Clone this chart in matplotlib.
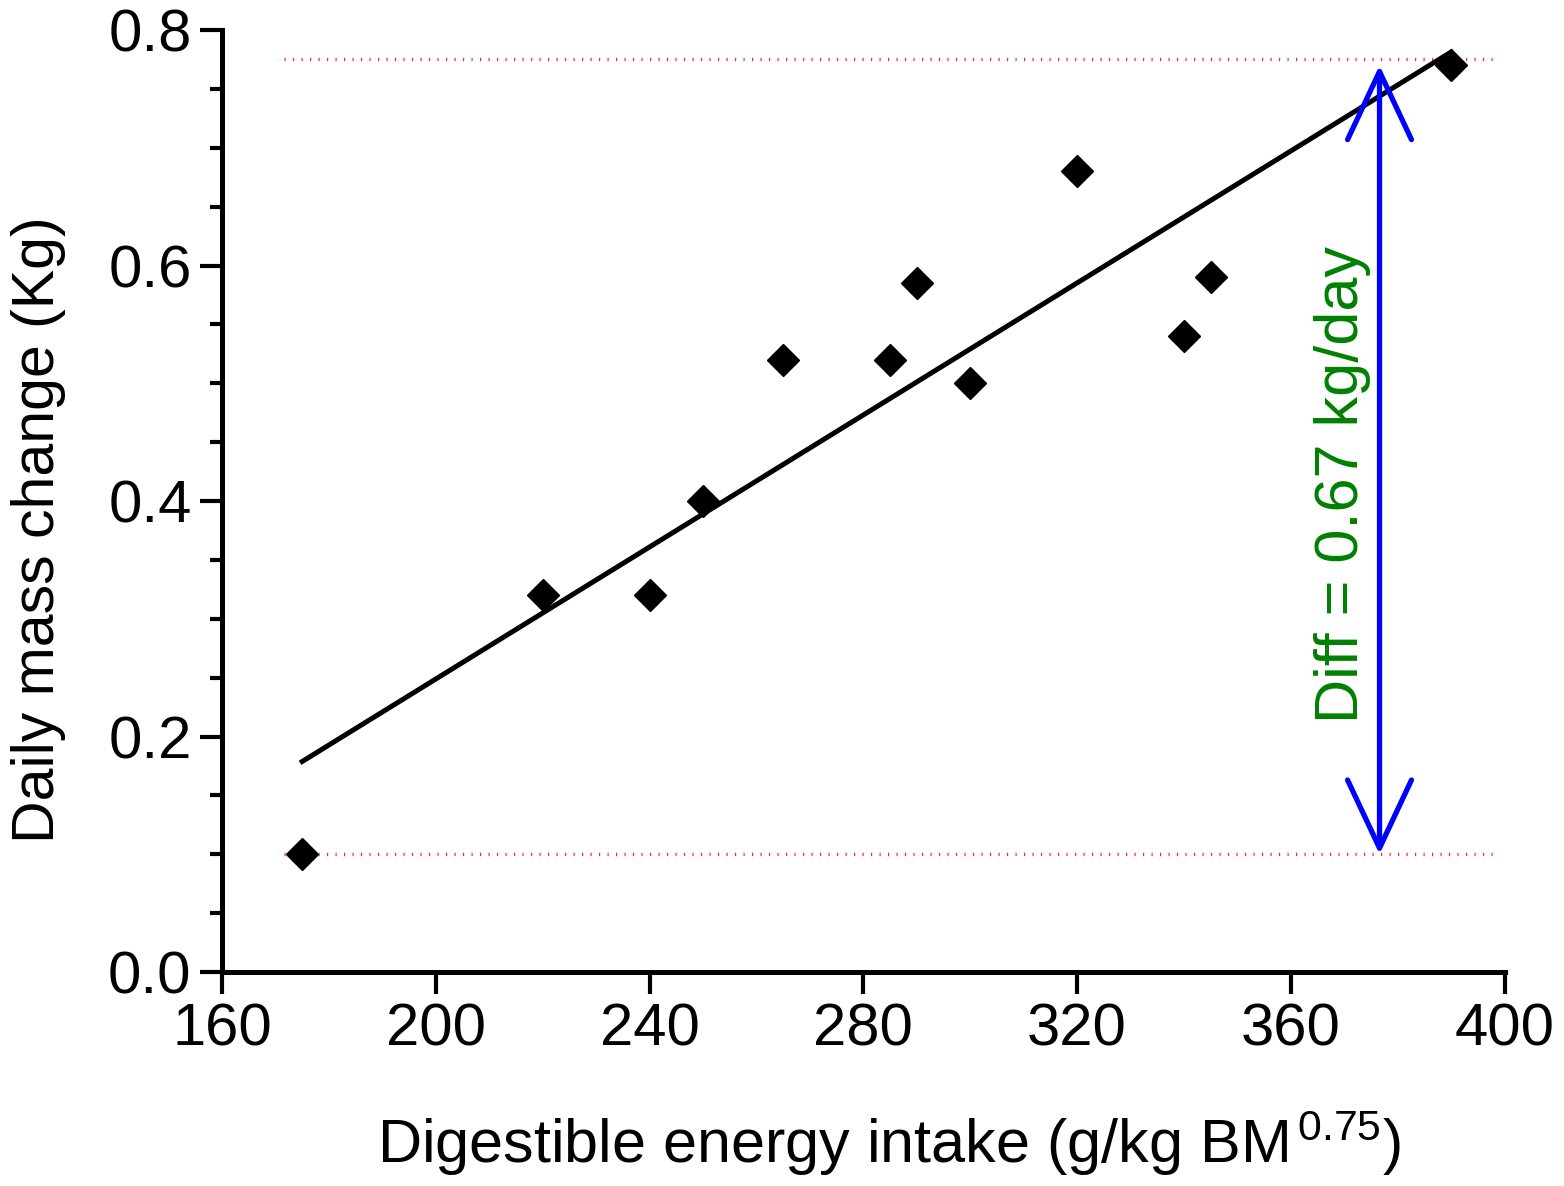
import numpy as np
import matplotlib
matplotlib.use('Agg')
import matplotlib.pyplot as plt
from matplotlib.ticker import MultipleLocator, FormatStrFormatter

plt.rcParams['font.family'] = ['Liberation Sans', 'DejaVu Sans']
plt.rcParams['mathtext.fontset'] = 'custom'
plt.rcParams['mathtext.rm'] = 'Liberation Sans'
plt.rcParams['mathtext.it'] = 'Liberation Sans'

# data
intake = [175, 220, 240, 250, 265, 285, 290, 300, 320, 340, 345, 390]
mass_change = [0.10, 0.32, 0.32, 0.40, 0.52, 0.52, 0.585, 0.50, 0.68, 0.54, 0.59, 0.77]

ref_low = 0.10
ref_high = 0.775
arrow_x = 376.6
diff_label = 'Diff = 0.67 kg/day'

fig = plt.figure(figsize=(15.64, 11.86), dpi=100)
ax = fig.add_axes([0.142, 0.1804, 0.820, 0.7943])

# linear fit
slope, icpt = np.polyfit(intake, mass_change, 1)
xfit = np.array([min(intake), max(intake)])
ax.plot(xfit, slope * xfit + icpt, color='black', lw=3.6, zorder=3)

ax.plot(intake, mass_change, 'D', color='black', ms=16.5, zorder=4)

# reference lines
for yv in (ref_high, ref_low):
    ax.plot([171.5, 399], [yv, yv], color='red', lw=2.4, alpha=0.85,
            dashes=(0.35, 2.2), zorder=2)

ax.annotate('', xy=(arrow_x, ref_low), xytext=(arrow_x, 0.770),
            arrowprops=dict(arrowstyle='<->, head_length=4.9, head_width=2.3',
                            color='blue', lw=3.8, mutation_scale=10,
                            shrinkA=0, shrinkB=0))
ax.text(369.6, 0.414, diff_label, rotation=90, color='green', fontsize=44,
        ha='center', va='center')

ax.set_xlim(160, 400)
ax.set_ylim(0, 0.8)
ax.xaxis.set_major_locator(MultipleLocator(40))
ax.yaxis.set_major_locator(MultipleLocator(0.2))
ax.yaxis.set_minor_locator(MultipleLocator(0.05))
ax.yaxis.set_major_formatter(FormatStrFormatter('%.1f'))

for s in ['top', 'right']:
    ax.spines[s].set_visible(False)
for s in ['left', 'bottom']:
    ax.spines[s].set_linewidth(3.6)
ax.tick_params(which='major', length=16, width=3, labelsize=43, pad=6)
ax.tick_params(which='minor', length=9, width=3)

ax.set_xlabel('Digestible energy intake (g/kg BM$^{\\,0.75}$)', fontsize=44)
ax.xaxis.set_label_coords(0.52, -0.145)
ax.set_ylabel('Daily mass change (Kg)', fontsize=42.5)
ax.yaxis.set_label_coords(-0.122, 0.47)

fig.savefig('out.png', dpi=100)
